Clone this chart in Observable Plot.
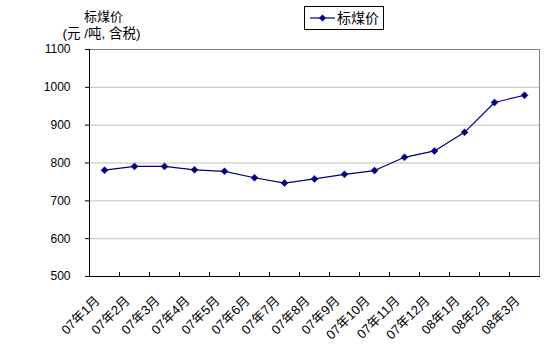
<!DOCTYPE html>
<html>
<head>
<meta charset="utf-8">
<script src="https://cdn.jsdelivr.net/npm/d3@7"></script>
<script src="https://cdn.jsdelivr.net/npm/@observablehq/plot@0.6"></script>
<style>
body { margin: 0; background: #fff; }
#chart { position: relative; width: 554px; height: 356px; }
</style>
</head>
<body>
<div id="chart"></div>
<script>
const months = ["07年1月","07年2月","07年3月","07年4月","07年5月","07年6月","07年7月","07年8月","07年9月","07年10月","07年11月","07年12月","08年1月","08年2月","08年3月"];
const prices = [781, 791, 791, 782, 778, 761, 747, 758, 770, 780, 815, 832, 881, 960, 979];
const yTicks = [500, 600, 700, 800, 900, 1000, 1100];
const seriesName = "标煤价";
const titleLines = ["标煤价", "(元 /吨, 含税)"];

const data = months.map((m, i) => ({month: m, price: prices[i]}));
const font = "'Liberation Sans', 'Noto Sans CJK SC', sans-serif";
const navy = "#000080";

const chart = Plot.plot({
  width: 554,
  height: 356,
  marginLeft: 89,
  marginRight: 15,
  marginTop: 49,
  marginBottom: 80,
  style: {fontFamily: font, fontSize: "12px", color: "#000", background: "#fff"},
  x: {type: "band", domain: months, padding: 0},
  y: {domain: [500, 1100]},
  marks: [
    Plot.ruleY(yTicks.filter(d => d > 500 && d < 1100), {stroke: "#c0c0c0"}),
    Plot.frame({anchor: "top", stroke: "#808080"}),
    Plot.frame({anchor: "right", stroke: "#808080"}),
    Plot.frame({anchor: "left", stroke: "#000"}),
    Plot.frame({anchor: "bottom", stroke: "#000"}),
    Plot.axisY({ticks: yTicks, tickSize: 4, tickPadding: 15, tickFormat: d => String(d), label: null, stroke: "#000", fontSize: 12}),
    Plot.axisX({ticks: months.slice(0, -1), tickSize: 4, dy: -4, dx: 15, tickFormat: () => "", label: null, stroke: "#000"}),
    Plot.text(months, {x: d => d, frameAnchor: "bottom", rotate: -45, textAnchor: "end", lineAnchor: "middle", dx: -7, dy: 22, fontSize: 13, fill: "#000"}),
    Plot.line(data, {x: "month", y: "price", stroke: navy, strokeWidth: 1.2}),
    Plot.dot(data, {x: "month", y: "price", symbol: "square", rotate: 45, r: 2.8, fill: navy, stroke: navy, strokeWidth: 0.5}),
    Plot.text([titleLines[0]], {frameAnchor: "top-left", dx: 14, dy: -33, textAnchor: "middle", lineAnchor: "middle", fontSize: 13, fill: "#000"}),
    Plot.text([titleLines[1]], {frameAnchor: "top-left", dx: 12, dy: -16, textAnchor: "middle", lineAnchor: "middle", fontSize: 13.5, fill: "#000"})
  ]
});

// legend box
const svg = d3.select(chart);
const lg = svg.append("g").attr("font-family", font).attr("text-anchor", "start");
lg.append("rect").attr("x", 304.5).attr("y", 6.5).attr("width", 79).attr("height", 23).attr("fill", "#fff").attr("stroke", "#000");
lg.append("line").attr("x1", 310).attr("x2", 335).attr("y1", 18).attr("y2", 18).attr("stroke", navy).attr("stroke-width", 1.2);
lg.append("path").attr("d", d3.symbol(d3.symbolSquare, 5 * 5)()).attr("transform", "translate(322.5,18) rotate(45)").attr("fill", navy);
lg.append("text").attr("x", 337).attr("y", 18).attr("dy", "0.35em").attr("font-size", 14).attr("text-anchor", "start").text(seriesName);

document.getElementById("chart").appendChild(chart);
</script>
</body>
</html>
